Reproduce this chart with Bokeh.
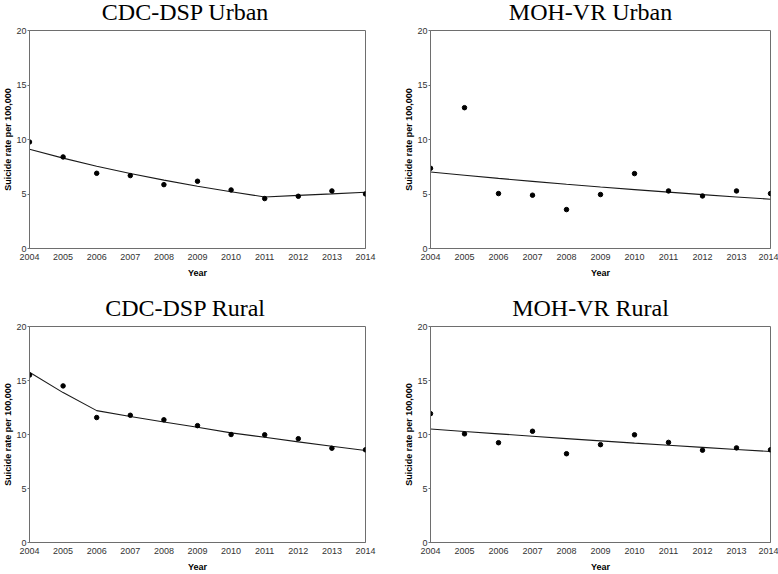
from bokeh.plotting import figure
from bokeh.layouts import column, row
from bokeh.models import FixedTicker, Range1d, Label
from bokeh.embed import file_html
from bokeh.resources import INLINE

years = [2004, 2005, 2006, 2007, 2008, 2009, 2010, 2011, 2012, 2013, 2014]
y_ticks = [0, 5, 10, 15, 20]

titles = ["CDC-DSP Urban", "MOH-VR Urban", "CDC-DSP Rural", "MOH-VR Rural"]

cdc_urban_obs = [9.77, 8.40, 6.90, 6.69, 5.86, 6.17, 5.37, 4.58, 4.79, 5.28, 5.01]
cdc_urban_fit = [9.10, 8.29, 7.55, 6.88, 6.27, 5.71, 5.20, 4.73, 4.87, 5.01, 5.16]

moh_urban_obs = [7.36, 12.92, 5.04, 4.89, 3.57, 4.95, 6.87, 5.28, 4.82, 5.28, 5.04]
moh_urban_fit = [7.02, 6.72, 6.43, 6.16, 5.89, 5.64, 5.40, 5.17, 4.94, 4.73, 4.52]

cdc_rural_obs = [15.50, 14.50, 11.57, 11.78, 11.36, 10.82, 10.00, 9.97, 9.61, 8.73, 8.58]
cdc_rural_fit = [15.77, 13.88, 12.21, 11.67, 11.16, 10.67, 10.15, 9.75, 9.32, 8.91, 8.52]

moh_rural_obs = [11.93, 10.06, 9.24, 10.30, 8.22, 9.06, 9.97, 9.27, 8.55, 8.76, 8.58]
moh_rural_fit = [10.51, 10.28, 10.06, 9.84, 9.62, 9.41, 9.20, 9.00, 8.81, 8.61, 8.43]

TICK_FONT = "'Liberation Sans', Arial, sans-serif"
TITLE_FONT = "'Liberation Serif', 'Times New Roman', serif"

TOTAL_W = 778


def title_bar(height, texts, centers, bottom_y):
    t = figure(width=TOTAL_W, height=height, output_backend="svg",
               toolbar_location=None, tools="",
               x_axis_location=None, y_axis_location=None,
               x_range=Range1d(0, TOTAL_W), y_range=Range1d(0, height),
               min_border_left=0, min_border_right=0,
               min_border_top=0, min_border_bottom=0)
    t.grid.visible = False
    t.outline_line_color = None
    t.background_fill_color = "white"
    t.border_fill_color = "white"
    for txt, cx in zip(texts, centers):
        t.add_layout(Label(x=cx, y=bottom_y, text=txt, text_align="center",
                           text_baseline="bottom", text_line_height=1.0,
                           text_font=TITLE_FONT,
                           text_font_size="24px", text_font_style="normal",
                           text_color="#000000"))
    return t


def make(obs, fit, width, height, b_left, b_right, b_top, b_bottom):
    p = figure(width=width, height=height, output_backend="svg",
               toolbar_location=None, tools="",
               x_range=Range1d(2004, 2014), y_range=Range1d(0, 20),
               min_border_left=b_left, min_border_right=b_right,
               min_border_top=b_top, min_border_bottom=b_bottom)

    p.grid.visible = False
    p.outline_line_color = "#6e6e6e"
    p.outline_line_width = 1
    p.background_fill_color = "white"
    p.border_fill_color = "white"

    p.xaxis.ticker = FixedTicker(ticks=years)
    p.yaxis.ticker = FixedTicker(ticks=y_ticks)
    for ax in (p.xaxis, p.yaxis):
        ax.axis_line_color = "#6e6e6e"
        ax.major_tick_in = 0
        ax.minor_tick_line_color = None
        ax.major_label_text_font = TICK_FONT
        ax.major_label_text_font_size = "9px"
        ax.major_label_text_color = "#333333"
        ax.axis_label_text_font = TICK_FONT
        ax.axis_label_text_font_size = "9px"
        ax.axis_label_text_font_style = "bold"
        ax.axis_label_text_color = "#000000"
    p.xaxis.major_tick_out = 0
    p.xaxis.major_tick_line_color = None
    p.xaxis.major_label_standoff = 5
    p.xaxis.axis_label = "Year"
    p.xaxis.axis_label_standoff = 5
    p.yaxis.major_tick_out = 2
    p.yaxis.major_tick_line_color = "#6e6e6e"
    p.yaxis.major_label_standoff = 1
    p.yaxis.axis_label = "Suicide rate per 100,000"
    p.yaxis.axis_label_standoff = 0

    p.line(years, fit, line_color="#1a1a1a", line_width=1.1)
    p.scatter(years, obs, size=4.5, fill_color="#000000", line_color="#000000")
    return p


t_top = title_bar(24, titles[0:2], [185, 590], 0)
p1 = make(cdc_urban_obs, cdc_urban_fit, 388, 260, 25, 23, 6, 36)
p2 = make(moh_urban_obs, moh_urban_fit, 390, 260, 42, 8, 6, 36)
t_bot = title_bar(36, titles[2:4], [185, 590], 0)
p3 = make(cdc_rural_obs, cdc_rural_fit, 388, 254, 25, 23, 6, 30)
p4 = make(moh_rural_obs, moh_rural_fit, 390, 254, 42, 8, 6, 30)

layout = column(t_top, row(p1, p2), t_bot, row(p3, p4))

open("out.html", "w").write(file_html(layout, INLINE))
